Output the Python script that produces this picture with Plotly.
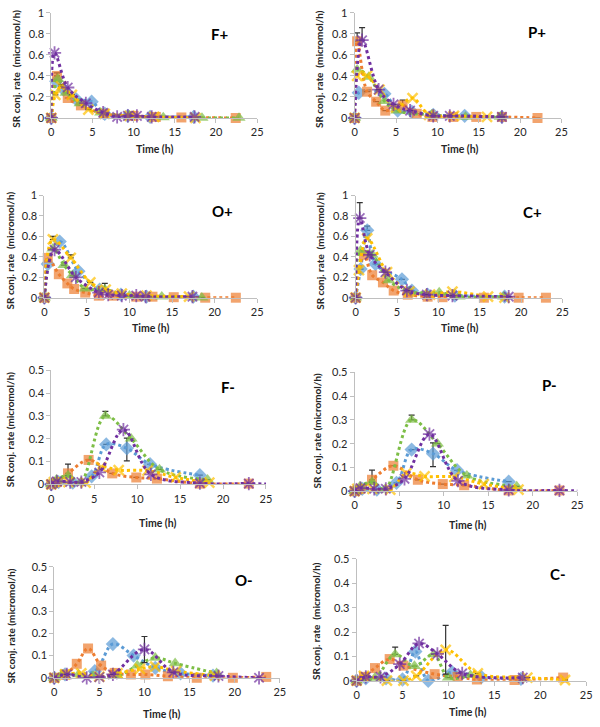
import plotly.graph_objects as go

W, H = 600, 727

# ---------------- data (time in h, rate in micromol/h) ----------------
# F+
fp_blue_t = [0, 0.6, 1.5, 3.0, 4.9, 6.5, 9.3, 12.0, 17.3]
fp_blue_y = [0, 0.35, 0.27, 0.18, 0.155, 0.04, 0.02, 0.01, 0.01]
fp_orange_t = [0, 0.7, 2.0, 3.6, 6.4, 10.0, 12.7, 15.8, 22.4]
fp_orange_y = [0, 0.40, 0.19, 0.12, 0.04, 0.02, 0.01, 0.005, 0.0]
fp_green_t = [0, 0.8, 1.8, 3.5, 6.0, 9.5, 13.6, 18.3, 22.8]
fp_green_y = [0, 0.37, 0.24, 0.14, 0.05, 0.02, 0.005, 0.0, 0.0]
fp_yellow_t = [0, 0.5, 1.2, 2.5, 4.5, 6.5, 9.5, 12.5, 17.5]
fp_yellow_y = [0, 0.22, 0.30, 0.22, 0.08, 0.04, 0.02, 0.01, 0.0]
fp_purple_t = [0, 0.4, 2.0, 4.2, 6.3, 8.0, 9.3, 10.4, 12.2, 17.4]
fp_purple_y = [0, 0.62, 0.29, 0.14, 0.05, 0.01, 0.02, 0.02, 0.01, 0.01]

# P+
pp_blue_t = [0, 0.5, 3.6, 5.2, 6.9, 9.5, 13.3, 17.8]
pp_blue_y = [0, 0.24, 0.23, 0.07, 0.06, 0.03, 0.02, 0.01]
pp_orange_t = [0, 0.3, 1.5, 2.6, 3.7, 5.8, 7.5, 9.4, 11.9, 14.7, 17.8, 22.1]
pp_orange_y = [0, 0.73, 0.25, 0.155, 0.07, 0.12, 0.04, 0.01, 0.01, 0.01, 0.01, 0.0]
pp_green_t = [0, 0.3, 1.7, 3.6, 5.1, 9.3, 13.4, 17.6]
pp_green_y = [0, 0.46, 0.39, 0.16, 0.07, 0.03, 0.01, 0.01]
pp_yellow_t = [0, 0.3, 1.5, 3.0, 5.0, 7.0, 9.0, 12.0, 16.0]
pp_yellow_y = [0, 0.40, 0.40, 0.27, 0.10, 0.19, 0.03, 0.02, 0.01]
pp_purple_t = [0, 0.9, 2.9, 4.7, 6.7, 9.5, 11.5, 17.8]
pp_purple_y = [0, 0.74, 0.27, 0.13, 0.07, 0.02, 0.02, 0.01]

# O+
op_blue_t = [0, 0.4, 1.8, 4.0, 6.5, 9.0, 12.0, 17.5]
op_blue_y = [0, 0.33, 0.55, 0.26, 0.08, 0.03, 0.01, 0.01]
op_orange_t = [0, 0.4, 1.7, 2.7, 3.5, 4.8, 6.4, 8.1, 10.8, 12.7, 15.2, 18.9, 22.5]
op_orange_y = [0, 0.39, 0.23, 0.14, 0.085, 0.05, 0.02, 0.02, 0.01, 0.01, 0.005, 0.0, 0.0]
op_green_t = [0, 1.0, 2.3, 3.3, 4.8, 7.1, 10.0, 13.8, 18.5]
op_green_y = [0, 0.48, 0.32, 0.22, 0.09, 0.08, 0.02, 0.01, 0.0]
op_yellow_t = [0, 1.0, 3.1, 5.4, 7.2, 9.1, 12.0, 17.0]
op_yellow_y = [0, 0.57, 0.39, 0.15, 0.08, 0.04, 0.02, 0.01]
op_purple_t = [0, 1.2, 3.7, 6.4, 7.5, 9.1, 10.8, 11.9, 17.4]
op_purple_y = [0, 0.47, 0.20, 0.05, 0.03, 0.02, 0.02, 0.01, 0.01]

# C+
cp_blue_t = [0, 0.6, 1.4, 2.4, 5.6, 6.8, 8.7, 12.0, 18.0]
cp_blue_y = [0, 0.28, 0.66, 0.33, 0.18, 0.07, 0.03, 0.02, 0.01]
cp_orange_t = [0, 1.0, 2.0, 3.3, 4.6, 6.3, 8.7, 10.5, 15.5, 19.7, 23.0]
cp_orange_y = [0, 0.42, 0.22, 0.15, 0.07, 0.03, 0.01, 0.005, 0.0, 0.0, 0.0]
cp_green_t = [0, 0.6, 2.0, 4.0, 6.5, 10.1, 12.5, 17.9]
cp_green_y = [0, 0.46, 0.42, 0.17, 0.06, 0.05, 0.01, 0.01]
cp_yellow_t = [0, 0.4, 1.4, 3.8, 6.5, 9.0, 11.7, 16.0, 18.0]
cp_yellow_y = [0, 0.27, 0.58, 0.25, 0.06, 0.03, 0.06, 0.01, 0.0]
cp_purple_t = [0, 0.5, 1.7, 3.6, 6.2, 8.6, 11.7, 18.5]
cp_purple_y = [0, 0.78, 0.42, 0.25, 0.07, 0.03, 0.02, 0.01]

# F-
fm_blue_t = [0, 0.85, 2.5, 4.7, 6.4, 8.8, 11.5, 17.3]
fm_blue_y = [0, 0.01, 0.007, 0.035, 0.175, 0.158, 0.088, 0.04]
fm_orange_t = [0, 0.66, 1.95, 4.35, 7.1, 9.9, 12.3, 17.3, 23.0]
fm_orange_y = [0, 0.01, 0.048, 0.107, 0.048, 0.03, 0.025, 0.003, 0.003]
fm_green_t = [0, 0.6, 1.95, 3.4, 6.3, 9.3, 12.6, 18.2]
fm_green_y = [0, 0.02, 0.038, 0.007, 0.30, 0.20, 0.065, 0.02]
fm_yellow_t = [0, 0.3, 2.0, 4.0, 5.8, 7.85, 11.2, 14.5, 18.4]
fm_yellow_y = [0, 0.01, 0.01, 0.007, 0.075, 0.062, 0.06, 0.03, 0.007]
fm_purple_t = [0, 0.66, 2.2, 3.5, 5.6, 8.4, 11.6, 17.3, 23.0, 26.0]
fm_purple_y = [0, 0.013, 0.01, 0.01, 0.052, 0.24, 0.044, 0.005, 0.003, 0.0]

# P-
pm_blue_t = [0, 0.85, 2.5, 4.7, 6.4, 8.8, 11.5, 17.3]
pm_blue_y = [0, 0.01, 0.007, 0.035, 0.175, 0.158, 0.088, 0.04]
pm_orange_t = [0, 0.66, 1.95, 4.35, 7.1, 9.9, 12.3, 17.3, 23.0]
pm_orange_y = [0, 0.01, 0.048, 0.107, 0.048, 0.03, 0.025, 0.003, 0.003]
pm_green_t = [0, 0.6, 1.95, 3.4, 6.4, 9.3, 12.6, 18.2]
pm_green_y = [0, 0.02, 0.038, 0.007, 0.30, 0.20, 0.065, 0.02]
pm_yellow_t = [0, 0.3, 2.0, 4.0, 5.8, 7.85, 11.2, 14.5, 18.4]
pm_yellow_y = [0, 0.01, 0.01, 0.007, 0.075, 0.062, 0.06, 0.03, 0.007]
pm_purple_t = [0, 0.66, 2.2, 3.5, 5.6, 8.4, 11.6, 17.3, 23.0, 26.0]
pm_purple_y = [0, 0.013, 0.01, 0.01, 0.052, 0.24, 0.044, 0.005, 0.003, 0.0]

# O-
om_blue_t = [0, 1.2, 4.5, 6.5, 8.8, 11.2, 14.0, 17.6]
om_blue_y = [0, 0.015, 0.03, 0.152, 0.10, 0.045, 0.02, 0.01]
om_orange_t = [0, 1.2, 2.5, 3.75, 5.2, 6.7, 8.5, 10.1, 12.6, 15.8, 19.8, 23.5]
om_orange_y = [0, 0.015, 0.063, 0.132, 0.055, 0.022, 0.015, 0.015, 0.007, 0.0, 0.0, 0.004]
om_green_t = [0, 0.85, 2.7, 4.3, 7.0, 9.2, 11.2, 13.4, 18.0]
om_green_y = [0, 0.015, 0.015, 0.008, 0.008, 0.055, 0.09, 0.065, 0.02]
om_yellow_t = [0, 1.2, 3.0, 5.0, 7.0, 9.5, 11.2, 13.5, 17.8]
om_yellow_y = [0, 0.015, 0.02, 0.005, 0.02, 0.04, 0.05, 0.03, 0.01]
om_purple_t = [0, 1.4, 3.6, 5.0, 6.5, 10.0, 13.2, 18.2, 22.7]
om_purple_y = [0, 0.015, 0.0, 0.003, 0.015, 0.128, 0.025, 0.008, 0.0]

# C-
cm_blue_t = [0, 1.0, 3.2, 5.0, 6.4, 7.8, 10.4, 13.6, 17.9]
cm_blue_y = [0, 0.01, 0.01, 0.005, 0.12, 0.0, 0.035, 0.015, 0.008]
cm_orange_t = [0, 0.8, 2.0, 3.6, 5.1, 8.5, 11.0, 13.1, 17.2, 22.5]
cm_orange_y = [0, 0.016, 0.052, 0.089, 0.062, 0.027, 0.016, 0.005, 0.003, 0.013]
cm_green_t = [0, 2.0, 4.2, 6.3, 8.4, 10.0, 12.4]
cm_green_y = [0, 0.012, 0.108, 0.06, 0.108, 0.013, 0.023]
cm_yellow_t = [0, 0.8, 3.3, 5.1, 6.5, 9.7, 13.2, 18.6, 22.7]
cm_yellow_y = [0, 0.02, 0.0, 0.0, 0.02, 0.127, 0.03, 0.013, 0.003]
cm_purple_t = [0, 1.0, 2.6, 4.7, 6.8, 8.8, 11.5, 18.1]
cm_purple_y = [0, 0.016, 0.016, 0.068, 0.153, 0.11, 0.03, 0.013]

# error bars: (panel, series, point index, plus, minus)
ERRORS = [
    ("F+", "orange", 1, 0.03, 0), ("F+", "yellow", 2, 0.02, 0),
    ("P+", "orange", 1, 0.08, 0), ("P+", "purple", 1, 0.12, 0), ("P+", "orange", 5, 0.05, 0),
    ("O+", "yellow", 1, 0.03, 0), ("O+", "yellow", 2, 0.03, 0), ("O+", "green", 5, 0.06, 0),
    ("C+", "purple", 1, 0.15, 0), ("C+", "blue", 2, 0.04, 0),
    ("F-", "orange", 2, 0.041, 0), ("F-", "green", 4, 0.02, 0), ("F-", "blue", 5, 0.045, 0.055),
    ("P-", "orange", 2, 0.041, 0), ("P-", "green", 4, 0.02, 0), ("P-", "blue", 5, 0.045, 0.055),
    ("O-", "purple", 5, 0.058, 0.06),
    ("C-", "yellow", 5, 0.10, 0.10), ("C-", "green", 2, 0.03, 0),
]

PANEL_NAMES = ["F+", "P+", "O+", "C+", "F-", "P-", "O-", "C-"]
PANEL_DATA = {
    "F+": dict(blue=(fp_blue_t, fp_blue_y), orange=(fp_orange_t, fp_orange_y), green=(fp_green_t, fp_green_y),
               yellow=(fp_yellow_t, fp_yellow_y), purple=(fp_purple_t, fp_purple_y)),
    "P+": dict(blue=(pp_blue_t, pp_blue_y), orange=(pp_orange_t, pp_orange_y), green=(pp_green_t, pp_green_y),
               yellow=(pp_yellow_t, pp_yellow_y), purple=(pp_purple_t, pp_purple_y)),
    "O+": dict(blue=(op_blue_t, op_blue_y), orange=(op_orange_t, op_orange_y), green=(op_green_t, op_green_y),
               yellow=(op_yellow_t, op_yellow_y), purple=(op_purple_t, op_purple_y)),
    "C+": dict(blue=(cp_blue_t, cp_blue_y), orange=(cp_orange_t, cp_orange_y), green=(cp_green_t, cp_green_y),
               yellow=(cp_yellow_t, cp_yellow_y), purple=(cp_purple_t, cp_purple_y)),
    "F-": dict(blue=(fm_blue_t, fm_blue_y), orange=(fm_orange_t, fm_orange_y), green=(fm_green_t, fm_green_y),
               yellow=(fm_yellow_t, fm_yellow_y), purple=(fm_purple_t, fm_purple_y)),
    "P-": dict(blue=(pm_blue_t, pm_blue_y), orange=(pm_orange_t, pm_orange_y), green=(pm_green_t, pm_green_y),
               yellow=(pm_yellow_t, pm_yellow_y), purple=(pm_purple_t, pm_purple_y)),
    "O-": dict(blue=(om_blue_t, om_blue_y), orange=(om_orange_t, om_orange_y), green=(om_green_t, om_green_y),
               yellow=(om_yellow_t, om_yellow_y), purple=(om_purple_t, om_purple_y)),
    "C-": dict(blue=(cm_blue_t, cm_blue_y), orange=(cm_orange_t, cm_orange_y), green=(cm_green_t, cm_green_y),
               yellow=(cm_yellow_t, cm_yellow_y), purple=(cm_purple_t, cm_purple_y)),
}
Y_MAX = {"F+": 1, "P+": 1, "O+": 1, "C+": 1, "F-": 0.5, "P-": 0.5, "O-": 0.5, "C-": 0.5}
X_MAX = 25
NB = "\u00a0"
Y_TITLE = {"F+": f"SR conj. rate {NB}(micromol/h)", "P+": f"SR conj. rate {NB}(micromol/h)",
           "O+": f"SR conj. rate {NB}(micromol/h)", "C+": f"SR conj. rate {NB}(micromol/h)",
           "F-": "SR conj. rate (micromol/h)", "P-": "SR conj. rate (micromol/h)",
           "O-": "SR conj. rate (micromol/h)", "C-": f"SR conj. rate {NB}(micromol/h)"}
X_TITLE = "Time (h)"

# ---------------- layout geometry (pixels) ----------------
# plot area: x-left, x-right, y-top, y-bottom
GEOM = {
    "F+": (49, 258, 6, 113), "P+": (357, 567, 6, 113),
    "O+": (42, 258, 192, 296), "C+": (358, 568, 192, 296),
    "F-": (49, 267, 370, 486), "P-": (357, 583, 372, 493),
    "O-": (52, 281, 570, 683), "C-": (359, 592, 562, 686),
}
LABEL_POS = {"F+": (220, 27), "P+": (542, 25), "O+": (223, 208), "C+": (538, 209),
             "F-": (228, 387), "P-": (555, 385), "O-": (245, 583), "C-": (563, 577)}
XTITLE_POS = {"F+": (154, 145), "P+": (463, 145), "O+": (150, 327), "C+": (463, 327),
              "F-": (157, 525), "P-": (472, 527), "O-": (161, 720), "C-": (472, 718)}
YTITLE_POS = {"F+": (13, 63), "P+": (321, 63), "O+": (7, 248), "C+": (321, 248),
              "F-": (7, 430), "P-": (319, 432), "O-": (8, 630), "C-": (318, 625)}

STYLE = {
    "blue": dict(color="#5B9BD5", symbol="diamond", size=11, lw=0),
    "orange": dict(color="#ED7D31", symbol="square", size=10, lw=0),
    "green": dict(color="#7DBE46", symbol="triangle-up", size=11.5, lw=0),
    "yellow": dict(color="#FFC000", symbol="x-thin-open", size=10, lw=2.5),
    "purple": dict(color="#7030A0", symbol="asterisk-open", size=11, lw=1.8),
}
SERIES_ORDER = ["blue", "orange", "green", "yellow", "purple"]

FONT = "Lato, 'Open Sans', Arial, sans-serif"
TXT = "#262626"


def px_x(p):
    return p / W


def px_y(p):
    return 1 - p / H


fig = go.Figure()
layout = dict(
    width=W, height=H, margin=dict(l=0, r=0, t=0, b=0),
    paper_bgcolor="white", plot_bgcolor="white", showlegend=False,
    font=dict(family=FONT, color=TXT),
)
annotations = []

for i, name in enumerate(PANEL_NAMES):
    n = i + 1
    xa = "xaxis" if n == 1 else f"xaxis{n}"
    ya = "yaxis" if n == 1 else f"yaxis{n}"
    xref = "x" if n == 1 else f"x{n}"
    yref = "y" if n == 1 else f"y{n}"
    xl, xr, yt, yb = GEOM[name]
    ymax = Y_MAX[name]
    layout[xa] = dict(
        domain=[px_x(xl), px_x(xr)], anchor=yref, range=[0, X_MAX], dtick=5,
        showgrid=False, zeroline=False, showline=True, linecolor="#BFBFBF", linewidth=1,
        ticks="outside", ticklen=4, tickcolor="#BFBFBF",
        tickfont=dict(size=11, family=FONT, color=TXT),
    )
    layout[ya] = dict(
        domain=[px_y(yb), px_y(yt)], anchor=xref, range=[0, ymax], dtick=ymax / 5,
        showgrid=False, zeroline=False, showline=True, linecolor="#BFBFBF", linewidth=1,
        ticks="outside", ticklen=4, tickcolor="#BFBFBF",
        tickfont=dict(size=11, family=FONT, color=TXT),
    )
    for s in SERIES_ORDER:
        t, y = PANEL_DATA[name][s]
        st = STYLE[s]
        plus = [None] * len(t)
        minus = [None] * len(t)
        has_err = False
        for (pn, sn, idx, ep, em) in ERRORS:
            if pn == name and sn == s:
                plus[idx] = ep
                minus[idx] = em
                has_err = True
        sizes = [st["size"] if tt <= X_MAX else 0 for tt in t]
        marker = dict(symbol=st["symbol"], size=sizes, color=st["color"],
                      line=dict(width=st["lw"], color=st["color"]))
        tr = dict(
            x=t, y=y, xaxis=xref, yaxis=yref, mode="lines+markers",
            line=dict(color=st["color"], width=3, dash="dot", shape="spline", smoothing=1),
            marker=marker, cliponaxis=False, hoverinfo="skip",
        )
        if has_err:
            tr["error_y"] = dict(type="data", array=plus, arrayminus=minus, symmetric=False,
                                 color="#333333", thickness=1.2, width=3)
        fig.add_trace(go.Scatter(**tr))

    lx, ly = LABEL_POS[name]
    annotations.append(dict(text=f"<b>{name}</b>", x=px_x(lx), y=px_y(ly), xref="paper", yref="paper",
                            showarrow=False, font=dict(size=15, family=FONT, color="#000000"),
                            xanchor="center", yanchor="middle"))
    tx, ty = XTITLE_POS[name]
    annotations.append(dict(text=f"<b>{X_TITLE}</b>", x=px_x(tx), y=px_y(ty), xref="paper", yref="paper",
                            showarrow=False, font=dict(size=10.5, family=FONT, color=TXT),
                            xanchor="center", yanchor="middle"))
    yx, yy = YTITLE_POS[name]
    annotations.append(dict(text=f"<b>{Y_TITLE[name]}</b>", x=px_x(yx), y=px_y(yy), xref="paper", yref="paper",
                            showarrow=False, textangle=-90, font=dict(size=10, family=FONT, color=TXT),
                            xanchor="center", yanchor="middle"))

layout["annotations"] = annotations
fig.update_layout(**layout)
fig.write_html("out.html", config={"displayModeBar": False},
               post_script="document.body.style.margin='0px';document.body.style.overflow='hidden';")
